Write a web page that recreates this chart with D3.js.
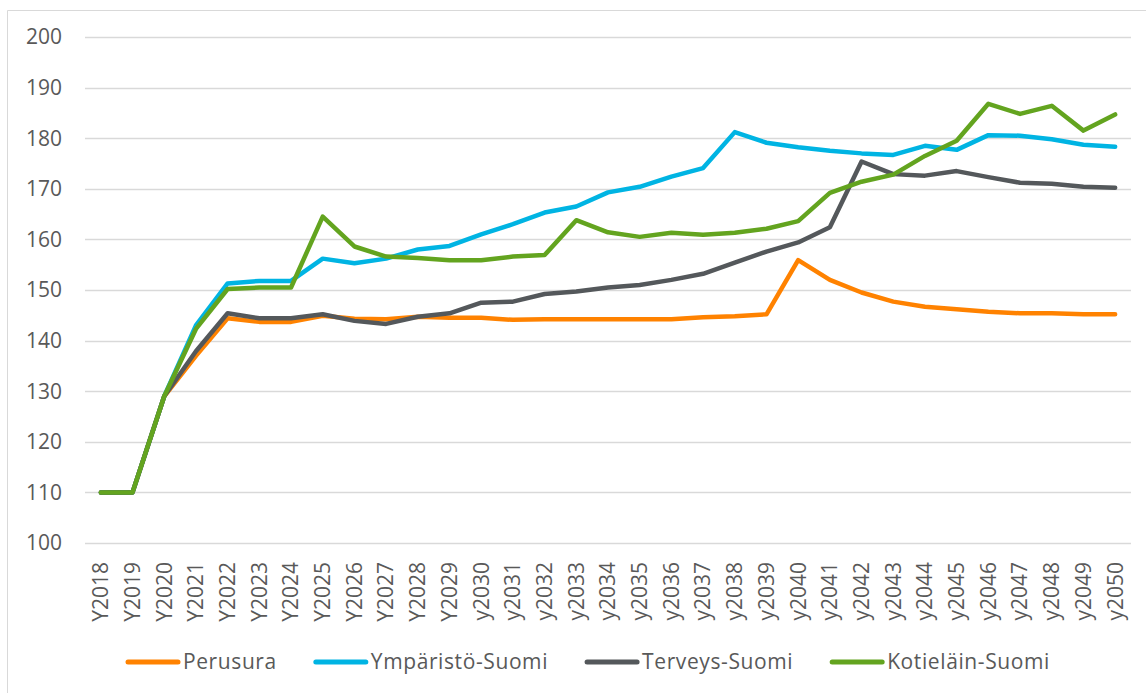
<!DOCTYPE html>
<html>
<head>
<meta charset="utf-8">
<script src="https://cdn.jsdelivr.net/npm/d3@7"></script>
<style>
  body { margin: 0; background: #fff; }
  text { font-family: "Open Sans", sans-serif; fill: #595959; }
</style>
</head>
<body>
<div id="chart"></div>
<script>
let years = ["Y2018", "Y2019", "Y2020", "Y2021", "Y2022", "Y2023", "Y2024", "Y2025", "Y2026", "Y2027", "Y2028", "Y2029",
  "y2030", "y2031", "y2032", "y2033", "y2034", "y2035", "y2036", "y2037", "y2038", "y2039", "y2040", "y2041",
  "y2042", "y2043", "y2044", "y2045", "y2046", "y2047", "y2048", "y2049", "y2050"];

let perusura = [110, 110, 129, 137, 144.4, 143.7, 143.7, 144.9, 144.3, 144.2, 144.7, 144.5,
  144.5, 144.1, 144.2, 144.2, 144.2, 144.2, 144.2, 144.6, 144.8, 145.2, 155.9, 152.0,
  149.5, 147.7, 146.7, 146.2, 145.7, 145.4, 145.4, 145.2, 145.2];
let ymparisto = [110, 110, 129, 143.0, 151.3, 151.8, 151.8, 156.2, 155.3, 156.2, 158.0, 158.7,
  161.0, 163.0, 165.3, 166.5, 169.3, 170.4, 172.4, 174.1, 181.2, 179.1, 178.2, 177.5,
  177.0, 176.7, 178.5, 177.7, 180.6, 180.5, 179.8, 178.7, 178.3];
let terveys = [110, 110, 129, 137.9, 145.4, 144.4, 144.4, 145.2, 143.9, 143.3, 144.7, 145.4,
  147.5, 147.7, 149.2, 149.7, 150.5, 151.0, 152.0, 153.2, 155.4, 157.6, 159.4, 162.4,
  175.4, 172.9, 172.6, 173.5, 172.3, 171.2, 171.0, 170.4, 170.2];
let kotielain = [110, 110, 129, 142.3, 150.2, 150.5, 150.5, 164.5, 158.6, 156.6, 156.3, 155.9,
  155.9, 156.6, 156.9, 163.8, 161.4, 160.5, 161.3, 160.9, 161.3, 162.1, 163.6, 169.2,
  171.4, 172.8, 176.5, 179.5, 186.8, 184.8, 186.4, 181.5, 184.7];

let seriesNames = ["Perusura", "Ympäristö-Suomi", "Terveys-Suomi", "Kotieläin-Suomi"];
let seriesValues = [perusura, ymparisto, terveys, kotielain];
let colors = ["#FF8200", "#00B4E3", "#54585B", "#63A41F"];
let yTicks = [100, 110, 120, 130, 140, 150, 160, 170, 180, 190, 200];

let width = 1146,
  height = 693;

let svg = d3.select("#chart")
  .append("svg")
  .attr("width", width)
  .attr("height", height);

// frame (only top and left visible in the crop)
svg.append("path")
  .attr("d", "M7.5,693V10.5H1146")
  .attr("fill", "none")
  .attr("stroke", "#d9d9d9")
  .attr("stroke-width", 1);

let x = d3.scalePoint()
  .domain(years)
  .range([85, 1131])
  .padding(0.5);

let y = d3.scaleLinear()
  .domain([100, 200])
  .range([543, 37]);

// gridlines
svg.append("g")
  .selectAll("line")
  .data(yTicks)
  .join("line")
  .attr("x1", 85)
  .attr("x2", 1131)
  .attr("y1", d => Math.round(y(d)) + 0.5)
  .attr("y2", d => Math.round(y(d)) + 0.5)
  .attr("stroke", "#d9d9d9")
  .attr("stroke-width", 1.3);

// y labels
svg.append("g")
  .selectAll("text")
  .data(yTicks)
  .join("text")
  .text(d => d)
  .attr("x", 62)
  .attr("y", d => y(d))
  .attr("dy", "0.35em")
  .attr("text-anchor", "end")
  .style("font-size", "21px");

// x labels, rotated
svg.append("g")
  .selectAll("text")
  .data(years)
  .join("text")
  .text(d => d)
  .attr("transform", d => `translate(${x(d)},562) rotate(-90)`)
  .attr("dy", "0.35em")
  .attr("text-anchor", "end")
  .style("font-size", "21px");

let line = d3.line()
  .x((d, i) => x(years[i]))
  .y(d => y(d));

svg.append("g")
  .selectAll("path")
  .data(seriesValues)
  .join("path")
  .attr("d", d => line(d))
  .attr("fill", "none")
  .attr("stroke", (d, i) => colors[i])
  .attr("stroke-width", 4.5)
  .attr("stroke-linejoin", "round")
  .attr("stroke-linecap", "round");

// legend
let lx = 126;
let legend = svg.append("g");
seriesNames.forEach((name, i) => {
  legend.append("line")
    .attr("x1", lx + 2)
    .attr("x2", lx + 52)
    .attr("y1", 662)
    .attr("y2", 662)
    .attr("stroke", colors[i])
    .attr("stroke-width", 5)
    .attr("stroke-linecap", "round");
  let t = legend.append("text")
    .text(name)
    .attr("x", lx + 57)
    .attr("y", 662)
    .attr("dy", "0.35em")
    .style("font-size", "21px")
    .style("letter-spacing", "0.6px");
  lx += 57 + t.node().getComputedTextLength() + 37;
});
</script>
</body>
</html>
